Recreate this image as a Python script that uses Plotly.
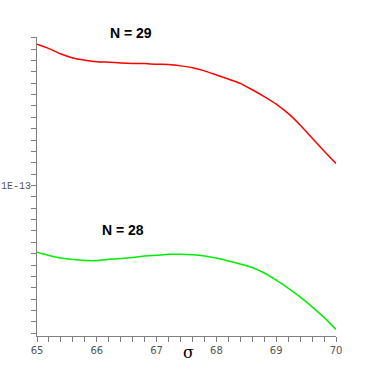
import plotly.graph_objects as go

sigma = [65.0, 65.2, 65.4, 65.6, 65.8, 66.0, 66.2, 66.4, 66.6, 66.8, 67.0, 67.2, 67.4,
         67.6, 67.8, 68.0, 68.2, 68.4, 68.6, 68.8, 69.0, 69.2, 69.4, 69.6, 69.8, 70.0]
# values in units of 1E-13
n29 = [1.621, 1.602, 1.578, 1.561, 1.551, 1.544, 1.542, 1.539, 1.537, 1.536, 1.533, 1.532, 1.526,
       1.518, 1.504, 1.486, 1.468, 1.449, 1.421, 1.391, 1.358, 1.317, 1.266, 1.209, 1.152, 1.097]
n28 = [0.706, 0.692, 0.681, 0.674, 0.670, 0.670, 0.675, 0.679, 0.683, 0.690, 0.693, 0.697, 0.697,
       0.695, 0.690, 0.681, 0.668, 0.655, 0.639, 0.615, 0.584, 0.549, 0.510, 0.466, 0.420, 0.367]
x_ticks = [65, 66, 67, 68, 69, 70]
y_label_value = 1.0
y_label_text = "1E-13"

fig = go.Figure()
fig.add_trace(go.Scatter(x=sigma, y=n29, mode="lines",
                         line=dict(color="#ff0000", width=1.5, shape="spline", smoothing=0.6), showlegend=False))
fig.add_trace(go.Scatter(x=sigma, y=n28, mode="lines",
                         line=dict(color="#00ee00", width=1.5, shape="spline", smoothing=0.6), showlegend=False))

xminor = [round(65 + 0.2 * i, 1) for i in range(26)]
xtext = [str(int(round(v))) if round(v) in x_ticks and abs(v - round(v)) < 1e-9 else "" for v in xminor]
yt = [round(0.35 + 0.05 * i, 2) for i in range(27)]
ytext = [y_label_text if abs(v - y_label_value) < 1e-9 else "" for v in yt]

W = 374
axcol = "#808080"
fig.update_layout(
    width=W, height=W,
    margin=dict(l=37, r=W - 336, t=37, b=W - 336, pad=0, autoexpand=False),
    plot_bgcolor="white", paper_bgcolor="white",
    xaxis=dict(range=[65, 70], tickvals=xminor, ticktext=xtext, ticks="outside", ticklen=5,
               tickcolor=axcol, showline=True, linecolor=axcol, linewidth=1, showgrid=False,
               zeroline=False, automargin=False,
               tickfont=dict(family="DejaVu Sans", size=10, color="#555555")),
    yaxis=dict(range=[0.338, 1.653], tickvals=yt, ticktext=ytext, ticks="outside", ticklen=5,
               tickcolor=axcol, showline=True, linecolor=axcol, linewidth=1, showgrid=False,
               zeroline=False, automargin=False, ticklabelstandoff=-2,
               tickfont=dict(family="Liberation Mono", size=10, color="#555555")),
)

def ann(px, py, text, font):
    fig.add_annotation(x=(px - 37) / 299, y=1 - (py - 37) / 299, xref="paper", yref="paper",
                       xanchor="center", yanchor="middle",
                       text=text, showarrow=False, font=font)

ann(131, 33, "<b>N = 29</b>", dict(family="Liberation Sans", size=14, color="black"))
ann(123, 230, "<b>N = 28</b>", dict(family="Liberation Sans", size=14, color="black"))
ann(188, 352, "σ", dict(family="DejaVu Serif", size=16, color="black"))

fig.write_html("out.html", config={"displayModeBar": False},
               post_script="document.body.style.margin='0';document.body.style.padding='0';")
